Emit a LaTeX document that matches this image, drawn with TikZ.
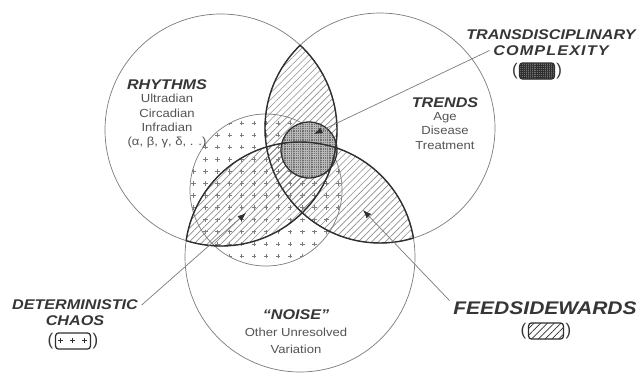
\documentclass[tikz,border=0pt]{standalone}
\usepackage{fontspec}
\setmainfont{Liberation Sans}
\newfontfamily\ttlfont[FakeStretch=1.15]{Liberation Sans}
\newfontfamily\subfont[FakeStretch=1.12]{Liberation Sans}
\usepackage{xcolor}
\usepackage{tikz}
\usetikzlibrary{arrows.meta,positioning,patterns,patterns.meta}
\definecolor{vnencre}{HTML}{2F2F2F}
\definecolor{vncercle}{HTML}{7C7C7C}
\definecolor{vnhachure}{HTML}{8E8E8E}
\definecolor{vnfonce}{HTML}{6F6F6F}
\definecolor{vntexte}{HTML}{363636}
\tikzdeclarepattern{
  name=croix,
  type=uncolored,
  bounding box={(-4.3pt,-4.3pt) and (4.3pt,4.3pt)},
  tile size={(8.6pt,8.6pt)},
  code={\draw[line width=0.6pt] (-1.6pt,0pt) -- (1.6pt,0pt) (0pt,-1.6pt) -- (0pt,1.6pt);}
}
\begin{document}
\begin{tikzpicture}[x=0.025cm,y=-0.025cm,
  cercle/.style={draw=vncercle,line width=0.5pt},
  bord/.style={draw=vnencre,line width=1pt},
  hach/.style={pattern={Lines[angle=45,distance=3.4pt,line width=0.45pt]},pattern color=vnhachure},
  pointe/.style={pattern=croix,pattern color=vncercle},
  ttl/.style={font=\ttlfont\bfseries\itshape\fontsize{10}{11}\selectfont,text=vntexte,inner sep=0.5pt},
  sub/.style={font=\subfont\fontsize{8.3}{10.3}\selectfont,text=vntexte!85,align=center,inner sep=0.5pt},
  lead/.style={draw=vncercle,line width=0.5pt,-{Latex[length=6pt,width=4.5pt,color=vnencre]}},
  swatch/.style={rectangle,rounded corners=2pt,draw=vnencre,line width=0.9pt,minimum width=0.87cm,minimum height=0.4cm},
  par/.style={font=\fontsize{12}{13}\selectfont,text=vntexte,inner sep=0pt}]
  \useasboundingbox[fill=white] (0,0) rectangle (642,377);
  % centres des cercles
  \coordinate (ry) at (221,130);
  \coordinate (tr) at (380,128);
  \coordinate (no) at (300,257);
  \coordinate (ch) at (266,190);
  \coordinate (cx) at (309,150);
  % hachures : zones communes deux a deux
  \begin{scope}
    \clip (ry) circle[radius=116];
    \path[hach] (tr) circle[radius=115];
    \path[hach] (no) circle[radius=115];
  \end{scope}
  \begin{scope}
    \clip (tr) circle[radius=115];
    \path[hach] (no) circle[radius=115];
  \end{scope}
  % chaos deterministe
  \path[pointe] (ch) circle[radius=76];
  \draw[cercle] (ch) circle[radius=76];
  % complexite
  \path[preaction={fill=vnfonce},pattern={Hatch[angle=0,distance=1.6pt,line width=0.3pt]},pattern color=gray!55] (cx) circle[radius=28];
  \draw[bord,line width=0.9pt] (cx) circle[radius=28];
  % les trois cercles
  \draw[cercle] (ry) circle[radius=116];
  \draw[cercle] (tr) circle[radius=115];
  \draw[cercle] (no) circle[radius=115];
  \begin{scope}
    \clip (tr) circle[radius=115] (no) circle[radius=115];
    \draw[bord] (ry) circle[radius=116];
  \end{scope}
  \begin{scope}
    \clip (ry) circle[radius=116] (no) circle[radius=115];
    \draw[bord] (tr) circle[radius=115];
  \end{scope}
  \begin{scope}
    \clip (ry) circle[radius=116] (tr) circle[radius=115];
    \draw[bord] (no) circle[radius=115];
  \end{scope}
  % textes des cercles
  \node[ttl] (rhy) at (167,85) {RHYTHMS};
  \node[sub,below=1.5pt of rhy] (rhyl) {Ultradian\\Circadian\\Infradian\\(α, β, γ, δ, . .)};
  \node[ttl] (tre) at (445,103) {TRENDS};
  \node[sub,below=1.5pt of tre] (trel) {Age\\Disease\\Treatment};
  \node[ttl] (noi) at (296,315) {“NOISE”};
  \node[sub,font=\subfont\fontsize{8.3}{12.4}\selectfont,below=4pt of noi] (noil) {Other Unresolved\\Variation};
  % legendes
  \node[ttl] (tcA) at (551,35) {TRANSDISCIPLINARY};
  \node[ttl,below=2.5pt of tcA] (tcB) {\addfontfeature{LetterSpace=8}COMPLEXITY};
  \node[swatch,preaction={fill=vnfonce},pattern={Hatch[angle=0,distance=1.5pt,line width=0.35pt]},pattern color=vnencre] (tcbox) at (537,71) {};
  \node[par,left=1pt of tcbox] (tcp1) {(};
  \node[par,right=1pt of tcbox] (tcp2) {)};
  \node[ttl] (dcA) at (75,305) {DETERMINISTIC};
  \node[ttl,below=2.5pt of dcA] (dcB) {CHAOS};
  \node[swatch,pattern=croix,pattern color=vnencre] (dcbox) at (73,341) {};
  \node[par,left=1pt of dcbox] (dcp1) {(};
  \node[par,right=1pt of dcbox] (dcp2) {)};
  \node[ttl,font=\ttlfont\bfseries\itshape\fontsize{13}{14}\selectfont] (fsA) at (545,308) {FEEDSIDEWARDS};
  \node[swatch,hach,pattern color=vnencre] (fsbox) at (546,331) {};
  \node[par,left=1pt of fsbox] (fsp1) {(};
  \node[par,right=1pt of fsbox] (fsp2) {)};
  % traits de rappel
  \coordinate (tcend) at (314,134);
  \coordinate (dcend) at (246,213);
  \coordinate (fsend) at (363,210);
  \draw[lead] ([xshift=-2pt]tcB.west) -- (tcend);
  \draw[lead] ([xshift=2pt]dcA.east) -- (dcend);
  \draw[lead] ([xshift=-2pt]fsA.north west) -- (fsend);
\end{tikzpicture}
\end{document}
